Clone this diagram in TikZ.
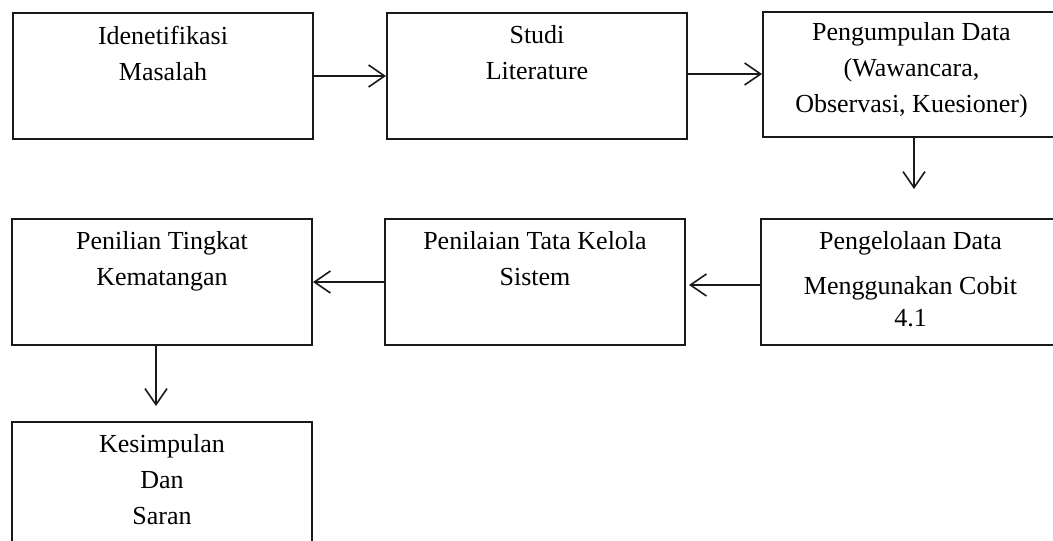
\documentclass[tikz,border=0pt]{standalone}
\usepackage{fontspec}
\setmainfont{Liberation Serif}
\usetikzlibrary{arrows.meta}
\tikzset{
  stage/.style={draw=black!90, line width=2pt, rectangle, inner sep=0pt,
    minimum width=300pt, minimum height=126pt},
  caption/.style={anchor=north, inner sep=0pt, align=center,
    font=\fontsize{26}{36}\selectfont},
  flow/.style={line width=1.6pt, draw=black!90,
    -{Straight Barb[length=16pt,width=22pt,line width=1.6pt]}},
}
\begin{document}
\begin{tikzpicture}[x=1pt,y=-1pt]
  \useasboundingbox (0,0) rectangle (1053,541);
  \clip (0,0) rectangle (1053,541);

  % process stages
  \node[stage] (b1) at (163,76) {};
  \node[stage] (b2) at (537,76) {};
  \node[stage, minimum width=297pt, minimum height=125pt] (b3) at (911.5,74.5) {};
  \node[stage] (b4) at (162,282) {};
  \node[stage] (b5) at (535,282) {};
  \node[stage, minimum width=299pt] (b6) at (910.5,282) {};
  \node[stage] (b7) at (162,485) {};

  % stage captions
  \node[caption] (t1) at ([yshift=-13.5pt]b1.north) {Idenetifikasi\\Masalah};
  \node[caption] (t2) at ([yshift=-13.5pt]b2.north) {Studi\\Literature};
  \node[caption] (t3) at ([yshift=-11.5pt]b3.north) {Pengumpulan Data\\(Wawancara,\\Observasi, Kuesioner)};
  \node[caption] (t4) at ([yshift=-13.5pt]b4.north) {Penilian Tingkat\\Kematangan};
  \node[caption] (t5) at ([yshift=-13.5pt]b5.north) {Penilaian Tata Kelola\\Sistem};
  \node[caption] (t6) at ([yshift=-13.5pt]b6.north) {Pengelolaan Data\\[9pt]Menggunakan Cobit\\[-4pt]4.1};
  \node[caption] (t7) at ([yshift=-13.5pt]b7.north) {Kesimpulan\\Dan\\Saran};

  % flow between stages
  \draw[flow] (b1) -- (b2);
  \draw[flow] ([yshift=2pt]b2.east) -- ([yshift=2pt]b2.east -| b3.west);
  \draw[flow, shorten >=29pt] ([xshift=2.5pt]b3.south) -- ([xshift=2.5pt]b3.south |- b6.north);
  \draw[flow, shorten >=3pt] ([yshift=-3pt]b6.west) -- ([yshift=-3pt]b6.west -| b5.east);
  \draw[flow] (b5) -- (b4);
  \draw[flow, shorten >=15pt] ([xshift=-6pt]b4.south) -- ([xshift=-6pt]b4.south |- b7.north);
\end{tikzpicture}
\end{document}
